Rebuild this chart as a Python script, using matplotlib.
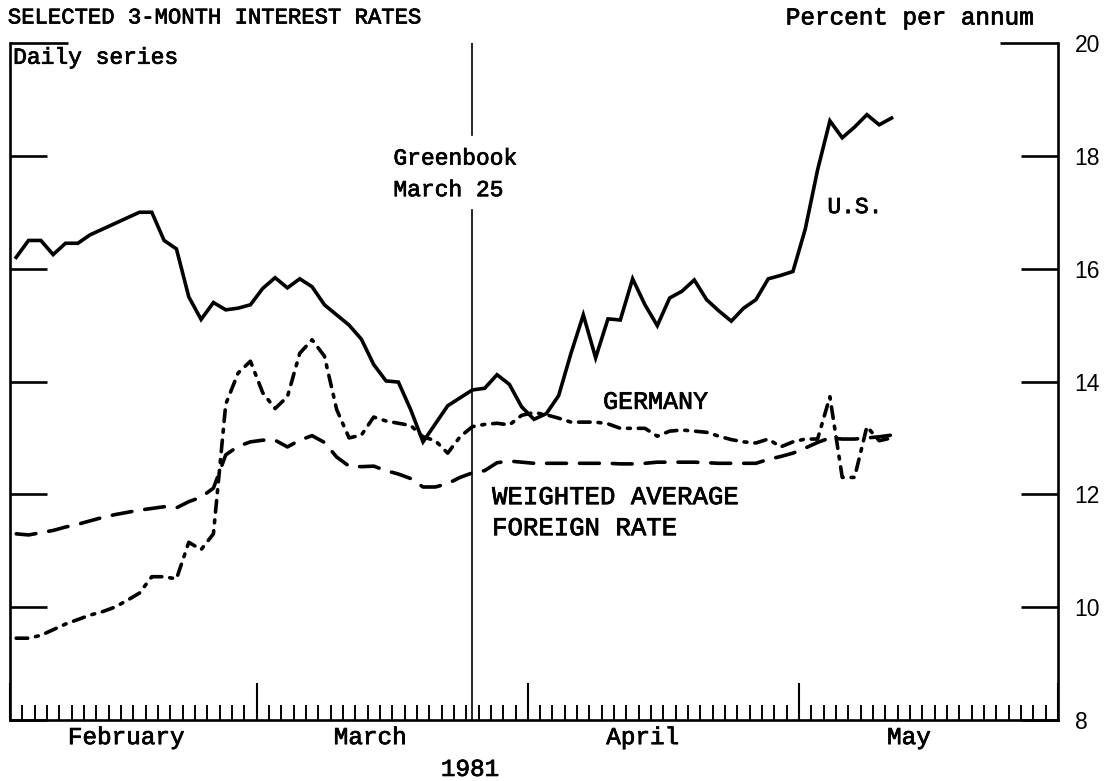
import numpy as np
import matplotlib
matplotlib.use("Agg")
import matplotlib.pyplot as plt
import matplotlib.patheffects as pe
from matplotlib.ticker import FixedLocator

# ---- data (one value per business day, Feb 2 1981 onward) ----
us_rate = [16.2, 16.5, 16.5, 16.25, 16.45, 16.45, 16.6, 16.7, 16.8, 16.9,
           17.0, 17.0, 16.5, 16.35, 15.5, 15.1, 15.4, 15.27, 15.3, 15.36,
           15.65, 15.84, 15.66, 15.82, 15.68, 15.36, 15.18, 15.0, 14.75, 14.3,
           14.01, 13.99, 13.5, 12.93, 13.25, 13.57, 13.71, 13.85, 13.88, 14.12,
           13.95, 13.55, 13.33, 13.43, 13.75, 14.5, 15.18, 14.42, 15.11, 15.09,
           15.82, 15.36, 14.99, 15.48, 15.6, 15.8, 15.45, 15.25, 15.07, 15.3,
           15.45, 15.82, 15.88, 15.95, 16.7, 17.75, 18.62, 18.32, 18.51, 18.73,
           18.55, 18.67]
germany_rate = [9.45, 9.45, 9.5, 9.6, 9.7, 9.78, 9.86, 9.92, 10.0, 10.12,
                10.25, 10.54, 10.54, 10.5, 11.15, 11.02, 11.3, 13.6, 14.15, 14.36,
                13.8, 13.52, 13.73, 14.5, 14.74, 14.45, 13.5, 13.0, 13.05, 13.37,
                13.3, 13.26, 13.22, 13.02, 12.95, 12.73, 13.02, 13.2, 13.24, 13.26,
                13.23, 13.4, 13.45, 13.41, 13.35, 13.28, 13.28, 13.28, 13.25, 13.17,
                13.17, 13.17, 13.03, 13.12, 13.14, 13.12, 13.1, 13.03, 12.97, 12.93,
                12.91, 12.98, 12.84, 12.93, 12.98, 12.98, 13.73, 12.3, 12.3, 13.2,
                12.95, 13.0]
weighted_avg = [11.3, 11.28, 11.32, 11.36, 11.42, 11.47, 11.53, 11.59, 11.64, 11.68,
                11.72, 11.75, 11.78, 11.76, 11.87, 11.95, 12.11, 12.7, 12.85, 12.93,
                12.96, 12.96, 12.84, 12.96, 13.04, 12.92, 12.66, 12.5, 12.49, 12.5,
                12.42, 12.36, 12.28, 12.13, 12.13, 12.19, 12.3, 12.38, 12.42, 12.56,
                12.59, 12.57, 12.55, 12.55, 12.55, 12.55, 12.55, 12.55, 12.55, 12.54,
                12.54, 12.55, 12.57, 12.57, 12.57, 12.57, 12.56, 12.55, 12.55, 12.55,
                12.55, 12.62, 12.67, 12.73, 12.82, 12.92, 13.0, 12.98, 12.98, 13.0,
                13.02, 13.05]

months = ["February", "March", "April", "May"]
month_starts = [0, 20, 42, 64, 85]          # business-day boundaries
month_label_pos = [9.4, 29.2, 51.3, 72.9]
y_ticks = [8, 10, 12, 14, 16, 18, 20]
greenbook_day = 37.5

FONT = ["Liberation Mono", "DejaVu Sans Mono"]
plt.rcParams["font.family"] = FONT
INK = [pe.withStroke(linewidth=0.55, foreground="black")]

fig = plt.figure(figsize=(11.19, 7.81), dpi=100)
ax = fig.add_axes([10 / 1119, 1 - 720 / 781, 1048 / 1119, 677 / 781])

x = np.arange(len(us_rate)) + 0.5
ax.plot(x, us_rate, color="black", lw=2.6, solid_joinstyle="miter")
ax.plot(x, germany_rate, color="black", lw=2.6,
        dashes=(3.2, 2.2, 0.8, 2.2), dash_capstyle="round")
ax.plot(x, weighted_avg, color="black", lw=2.6, dashes=(5.5, 3.6),
        dash_capstyle="round")

# Greenbook marker
ax.plot([greenbook_day, greenbook_day], [20, 18.37], color="black", lw=1.2)
ax.plot([greenbook_day, greenbook_day], [17.04, 8], color="black", lw=1.2)

ax.set_xlim(0, 85)
ax.set_ylim(8, 20)

ax.spines["top"].set_visible(False)
for s in ["left", "right", "bottom"]:
    ax.spines[s].set_linewidth(1.9)

# y ticks on both sides, labels on right
ax.yaxis.set_major_locator(FixedLocator(y_ticks))
ax.set_yticklabels([str(v) for v in y_ticks],
                   fontfamily=["Liberation Sans", "DejaVu Sans"])
ax.tick_params(axis="y", which="major", direction="in", left=True, right=True,
               labelleft=False, labelright=True, length=26.6, width=1.9,
               pad=12, labelsize=16.5)
last = ax.yaxis.get_major_ticks()[-1]
last.tick1line.set_markersize(42)
last.tick2line.set_markersize(42)

# x ticks: business days
ax.xaxis.set_major_locator(FixedLocator(month_starts))
ax.xaxis.set_minor_locator(FixedLocator(np.arange(0, 86)))
ax.tick_params(axis="x", which="major", direction="in", length=27, width=1.5,
               labelbottom=False)
ax.tick_params(axis="x", which="minor", direction="in", length=11, width=1.4)


def label(*args, **kw):
    t = ax.text(*args, **kw)
    t.set_path_effects(INK)
    return t


xt = ax.get_xaxis_transform()
for pos, name in zip(month_label_pos, months):
    label(pos, -0.026, name, transform=xt, ha="center", va="center", fontsize=17.5)
label(37.3, -0.073, "1981", transform=xt, ha="center", va="center", fontsize=17.5)

# titles
label(-0.002, 1.037, "SELECTED 3-MONTH INTEREST RATES", transform=ax.transAxes,
      ha="left", va="center", fontsize=16)
label(0.003, 0.979, "Daily series", transform=ax.transAxes,
      ha="left", va="center", fontsize=16.5)
label(0.9755, 1.037, "Percent per annum", transform=ax.transAxes,
      ha="right", va="center", fontsize=17.5)

# series labels
label(31.1, 17.96, "Greenbook", ha="left", va="center", fontsize=16.5)
label(31.1, 17.40, "March 25", ha="left", va="center", fontsize=16.5)
label(66.3, 17.10, "U.S.", ha="left", va="center", fontsize=16.5)
label(48.1, 13.64, "GERMANY", ha="left", va="center", fontsize=18)
label(39.1, 11.95, "WEIGHTED AVERAGE", ha="left", va="center", fontsize=18.5)
label(39.1, 11.40, "FOREIGN RATE", ha="left", va="center", fontsize=18.5)

fig.savefig("out.png", dpi=100)
